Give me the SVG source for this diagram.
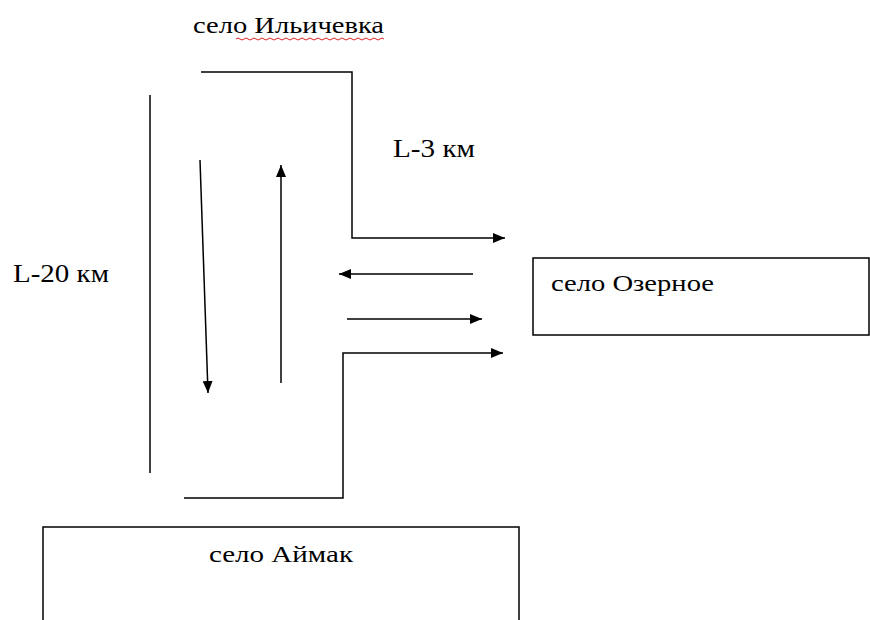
<svg xmlns="http://www.w3.org/2000/svg" width="870" height="620" viewBox="0 0 870 620">
<style>
.ln{fill:none;stroke:#000;stroke-width:1.5}
.bx{fill:#fff;stroke:#000;stroke-width:1.5}
text{font-family:'Liberation Serif','Times New Roman',serif;fill:#000}
.s{font-size:23px}
.l{font-size:26px}
</style>
<defs>
<marker id="ah" viewBox="0 0 12 10" refX="12" refY="5" markerWidth="12" markerHeight="10" markerUnits="userSpaceOnUse" orient="auto">
<path d="M0,0 L12,5 L0,10 Z" fill="#000"/>
</marker>
</defs>
<rect width="870" height="620" fill="#fff"/>
<g id="ilichevka">
<text class="s" x="193" y="33" textLength="191" lengthAdjust="spacingAndGlyphs">село Ильичевка</text>
<path d="M236,39 q2,-2 4,0 t4,0 t4,0 t4,0 t4,0 t4,0 t4,0 t4,0 t4,0 t4,0 t4,0 t4,0 t4,0 t4,0 t4,0 t4,0 t4,0 t4,0 t4,0 t4,0 t4,0 t4,0 t4,0 t4,0 t4,0 t4,0 t4,0 t4,0 t4,0 t4,0 t4,0 t4,0 t4,0 t4,0 t4,0 t4,0 t4,0" fill="none" stroke="#d22" stroke-width="1"/>
</g>
<g id="label-l3"><text class="l" x="393" y="157" textLength="82" lengthAdjust="spacingAndGlyphs">L-3 км</text></g>
<g id="label-l20"><text class="l" x="13" y="282" textLength="96" lengthAdjust="spacingAndGlyphs">L-20 км</text></g>
<g id="ozernoe">
<rect class="bx" x="533" y="258" width="336" height="77"/>
<text class="s" x="551" y="291" textLength="163" lengthAdjust="spacingAndGlyphs">село Озерное</text>
</g>
<g id="aymak">
<rect class="bx" x="43" y="527" width="476" height="100"/>
<text class="s" x="209" y="562" textLength="144" lengthAdjust="spacingAndGlyphs">село Аймак</text>
</g>
<g id="connectors">
<line class="ln" x1="150" y1="95" x2="150" y2="473"/>
<polyline class="ln" points="201,72 352,72 352,238 505,238" marker-end="url(#ah)"/>
<line class="ln" x1="473" y1="274" x2="339" y2="274" marker-end="url(#ah)"/>
<line class="ln" x1="347" y1="319" x2="482" y2="319" marker-end="url(#ah)"/>
<polyline class="ln" points="184,498 343,498 343,353 503,353" marker-end="url(#ah)"/>
<line class="ln" x1="200" y1="160" x2="208" y2="393" marker-end="url(#ah)"/>
<line class="ln" x1="281" y1="383" x2="281" y2="165" marker-end="url(#ah)"/>
</g>
</svg>
